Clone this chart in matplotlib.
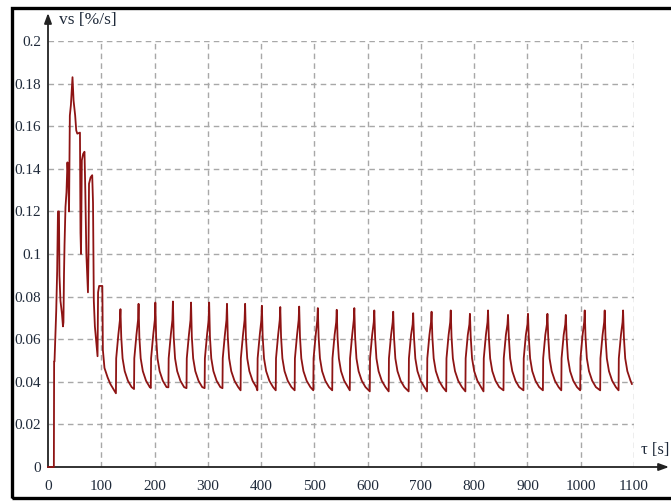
import matplotlib
matplotlib.use("Agg")
import matplotlib.pyplot as plt
from matplotlib.patches import Rectangle

# --- data -----------------------------------------------------------------
# start-up transient (time in s, rate in %/s)
t_start = [0, 11.0, 11.5, 12.2, 15.4, 17.2, 18.7, 20.6, 21.5, 23.4, 26.2, 28.1,
           29.0, 30.0, 31.0, 32.8, 34.7, 36.5, 38.0, 39.5, 41.0, 43.0, 46.0,
           48.0, 51.0, 53.0, 55.0, 60.0, 61.0, 62.0, 63.5, 66.0, 68.5, 70.0,
           72.0, 75.0, 76.0, 77.0, 80.0, 83.0, 84.5, 86.0, 88.0, 93.0, 94.0,
           96.0, 102.0, 103.0, 106.0, 112.0, 117.0]
v_start = [0, 0, 0.0495, 0.0495, 0.073, 0.092, 0.120, 0.120, 0.090, 0.078,
           0.072, 0.066, 0.068, 0.090, 0.104, 0.122, 0.129, 0.143, 0.136,
           0.120, 0.165, 0.170, 0.183, 0.172, 0.165, 0.158, 0.1565, 0.157,
           0.110, 0.100, 0.144, 0.147, 0.148, 0.130, 0.100, 0.082, 0.100,
           0.133, 0.136, 0.137, 0.124, 0.078, 0.066, 0.052, 0.082, 0.085,
           0.085, 0.055, 0.0465, 0.042, 0.039]

# periodic regime, one row per cycle
t_cycles = [
    [127.5, 128, 132, 135, 136, 137.5, 140, 144, 150, 157],
    [161.5, 162, 166, 169, 170, 171.5, 174, 178, 184, 191],
    [193, 193.5, 197.5, 200.5, 201.5, 203, 205.5, 209.5, 215.5, 222.5],
    [226, 226.5, 230.5, 233.5, 234.5, 236, 238.5, 242.5, 248.5, 255.5],
    [260, 260.5, 264.5, 267.5, 268.5, 270, 272.5, 276.5, 282.5, 289.5],
    [294, 294.5, 298.5, 301.5, 302.5, 304, 306.5, 310.5, 316.5, 323.5],
    [327.5, 328, 332, 335, 336, 337.5, 340, 344, 350, 357],
    [361.5, 362, 366, 369, 370, 371.5, 374, 378, 384, 391],
    [393, 393.5, 397.5, 400.5, 401.5, 403, 405.5, 409.5, 415.5, 422.5],
    [427.5, 428, 432, 435, 436, 437.5, 440, 444, 450, 457],
    [463, 463.5, 467.5, 470.5, 471.5, 473, 475.5, 479.5, 485.5, 492.5],
    [498, 498.5, 502.5, 505.5, 506.5, 508, 510.5, 514.5, 520.5, 527.5],
    [533.5, 534, 538, 541, 542, 543.5, 546, 550, 556, 563],
    [566.5, 567, 571, 574, 575, 576.5, 579, 583, 589, 596],
    [604, 604.5, 608.5, 611.5, 612.5, 614, 616.5, 620.5, 626.5, 633.5],
    [639.5, 640, 644, 647, 648, 649.5, 652, 656, 662, 669],
    [677, 677.5, 681.5, 684.5, 685.5, 687, 689.5, 693.5, 699.5, 706.5],
    [711.5, 712, 716, 719, 720, 721.5, 724, 728, 734, 741],
    [747.5, 748, 752, 755, 756, 757.5, 760, 764, 770, 777],
    [783.5, 784, 788, 791, 792, 793.5, 796, 800, 806, 813],
    [817.5, 818, 822, 825, 826, 827.5, 830, 834, 840, 847],
    [855, 855.5, 859.5, 862.5, 863.5, 865, 867.5, 871.5, 877.5, 884.5],
    [892.5, 893, 897, 900, 901, 902.5, 905, 909, 915, 922],
    [929, 929.5, 933.5, 936.5, 937.5, 939, 941.5, 945.5, 951.5, 958.5],
    [963.5, 964, 968, 971, 972, 973.5, 976, 980, 986, 993],
    [999, 999.5, 1003.5, 1006.5, 1007.5, 1009, 1011.5, 1015.5, 1021.5, 1028.5],
    [1036.5, 1037, 1041, 1044, 1045, 1046.5, 1049, 1053, 1059, 1066],
    [1071, 1071.5, 1075.5, 1078.5, 1079.5, 1081, 1083.5, 1087.5, 1093.5, 1096],
]
v_cycles = [
    [0.0346, 0.051, 0.062, 0.069, 0.0741, 0.061, 0.051, 0.045, 0.0405, 0.0375],
    [0.0366, 0.051, 0.062, 0.069, 0.0766, 0.061, 0.051, 0.045, 0.0405, 0.0375],
    [0.0371, 0.051, 0.062, 0.069, 0.0772, 0.061, 0.051, 0.045, 0.0405, 0.0375],
    [0.0374, 0.051, 0.062, 0.069, 0.0777, 0.061, 0.051, 0.045, 0.0405, 0.0375],
    [0.0370, 0.051, 0.062, 0.069, 0.0772, 0.061, 0.051, 0.045, 0.0405, 0.0375],
    [0.0370, 0.051, 0.062, 0.069, 0.0772, 0.061, 0.051, 0.045, 0.0405, 0.0375],
    [0.0370, 0.051, 0.062, 0.069, 0.0766, 0.061, 0.051, 0.045, 0.0405, 0.0375],
    [0.0360, 0.051, 0.062, 0.069, 0.0766, 0.061, 0.051, 0.045, 0.0405, 0.0375],
    [0.0360, 0.051, 0.062, 0.069, 0.0757, 0.061, 0.051, 0.045, 0.0405, 0.0375],
    [0.0360, 0.051, 0.062, 0.069, 0.0751, 0.061, 0.051, 0.045, 0.0405, 0.0375],
    [0.0360, 0.051, 0.062, 0.069, 0.0753, 0.061, 0.051, 0.045, 0.0405, 0.0375],
    [0.0360, 0.051, 0.062, 0.069, 0.0746, 0.061, 0.051, 0.045, 0.0405, 0.0375],
    [0.0360, 0.051, 0.062, 0.068, 0.0738, 0.061, 0.051, 0.045, 0.0405, 0.0375],
    [0.0360, 0.051, 0.062, 0.069, 0.0746, 0.061, 0.051, 0.045, 0.0405, 0.0375],
    [0.0355, 0.051, 0.062, 0.068, 0.0735, 0.061, 0.051, 0.045, 0.0405, 0.0375],
    [0.0355, 0.051, 0.062, 0.068, 0.0729, 0.061, 0.051, 0.045, 0.0405, 0.0375],
    [0.0355, 0.051, 0.062, 0.067, 0.0722, 0.061, 0.051, 0.045, 0.0405, 0.0375],
    [0.0355, 0.051, 0.062, 0.068, 0.0729, 0.061, 0.051, 0.045, 0.0405, 0.0375],
    [0.0355, 0.051, 0.062, 0.068, 0.0735, 0.061, 0.051, 0.045, 0.0405, 0.0375],
    [0.0355, 0.051, 0.062, 0.067, 0.0719, 0.061, 0.051, 0.045, 0.0405, 0.0375],
    [0.0355, 0.051, 0.062, 0.068, 0.0735, 0.061, 0.051, 0.045, 0.0405, 0.0375],
    [0.0360, 0.051, 0.062, 0.067, 0.0714, 0.061, 0.051, 0.045, 0.0405, 0.0375],
    [0.0360, 0.051, 0.062, 0.067, 0.0719, 0.061, 0.051, 0.045, 0.0405, 0.0375],
    [0.0360, 0.051, 0.062, 0.067, 0.0719, 0.061, 0.051, 0.045, 0.0405, 0.0375],
    [0.0360, 0.051, 0.062, 0.067, 0.0714, 0.061, 0.051, 0.045, 0.0405, 0.0375],
    [0.0360, 0.051, 0.062, 0.068, 0.0735, 0.061, 0.051, 0.045, 0.0405, 0.0375],
    [0.0360, 0.051, 0.062, 0.068, 0.0735, 0.061, 0.051, 0.045, 0.0405, 0.0375],
    [0.0360, 0.051, 0.062, 0.068, 0.0735, 0.061, 0.051, 0.045, 0.0405, 0.0390],
]

x_ticks = [0, 100, 200, 300, 400, 500, 600, 700, 800, 900, 1000, 1100]
y_ticks = [0, 0.02, 0.04, 0.06, 0.08, 0.1, 0.12, 0.14, 0.16, 0.18, 0.2]
y_tick_labels = ["0", "0.02", "0.04", "0.06", "0.08", "0.1", "0.12", "0.14",
                 "0.16", "0.18", "0.2"]
x_label = "τ [s]"
y_label = "vs [%/s]"

# --- figure ---------------------------------------------------------------
W, H = 671, 501
fig = plt.figure(figsize=(W / 100, H / 100), dpi=100)
plt.rcParams["font.family"] = ["Liberation Serif", "DejaVu Serif"]

# outer frame
fig.patches.append(Rectangle((12 / W, 3.5 / H), 1.2, (497.5 - 7.5) / H,
                             transform=fig.transFigure, fill=False,
                             edgecolor="black", linewidth=2.4, zorder=0))

ax = fig.add_axes([48 / W, (H - 467) / H, (634 - 48) / W, (467 - 41) / H])
ax.set_xlim(0, 1100)
ax.set_ylim(0, 0.2)
for s in ax.spines.values():
    s.set_visible(False)

grid_kw = dict(color="#a8a8a8", linewidth=1.0, linestyle=(0, (4, 3)), zorder=1)
for x in x_ticks[1:]:
    ax.axvline(x, **grid_kw)
for y in y_ticks[1:]:
    ax.axhline(y, **grid_kw)

text_color = "#1f2a3a"
ax.set_xticks(x_ticks)
ax.set_xticklabels([str(x) for x in x_ticks])
ax.set_yticks(y_ticks)
ax.set_yticklabels(y_tick_labels)
ax.tick_params(length=0, labelsize=11, colors=text_color)
ax.tick_params(axis="x", pad=9)
ax.tick_params(axis="y", pad=5)

# axis lines with arrow heads
arrow_kw = dict(arrowstyle="-|>,head_length=0.6,head_width=0.22",
                color="#222222", lw=1.3, shrinkA=0, shrinkB=0)
ax.annotate("", xy=(0, (467 - 13) / 426), xytext=(0, 0),
            xycoords="axes fraction", arrowprops=arrow_kw, annotation_clip=False)
ax.annotate("", xy=((669 - 48) / 586, 0), xytext=(0, 0),
            xycoords="axes fraction", arrowprops=arrow_kw, annotation_clip=False)

# series
t_all = list(t_start)
v_all = list(v_start)
for tc, vc in zip(t_cycles, v_cycles):
    t_all.extend(tc)
    v_all.extend(vc)
ax.plot(t_all, v_all, color="#8e1414", linewidth=1.3, zorder=3,
        clip_on=False)

fig.text(59 / W, (H - 20) / H, y_label, fontsize=12.5, color=text_color,
         ha="left", va="center")
fig.text(641 / W, (H - 450) / H, x_label, fontsize=12, color=text_color,
         ha="left", va="center")

fig.savefig("out.png", dpi=100)
